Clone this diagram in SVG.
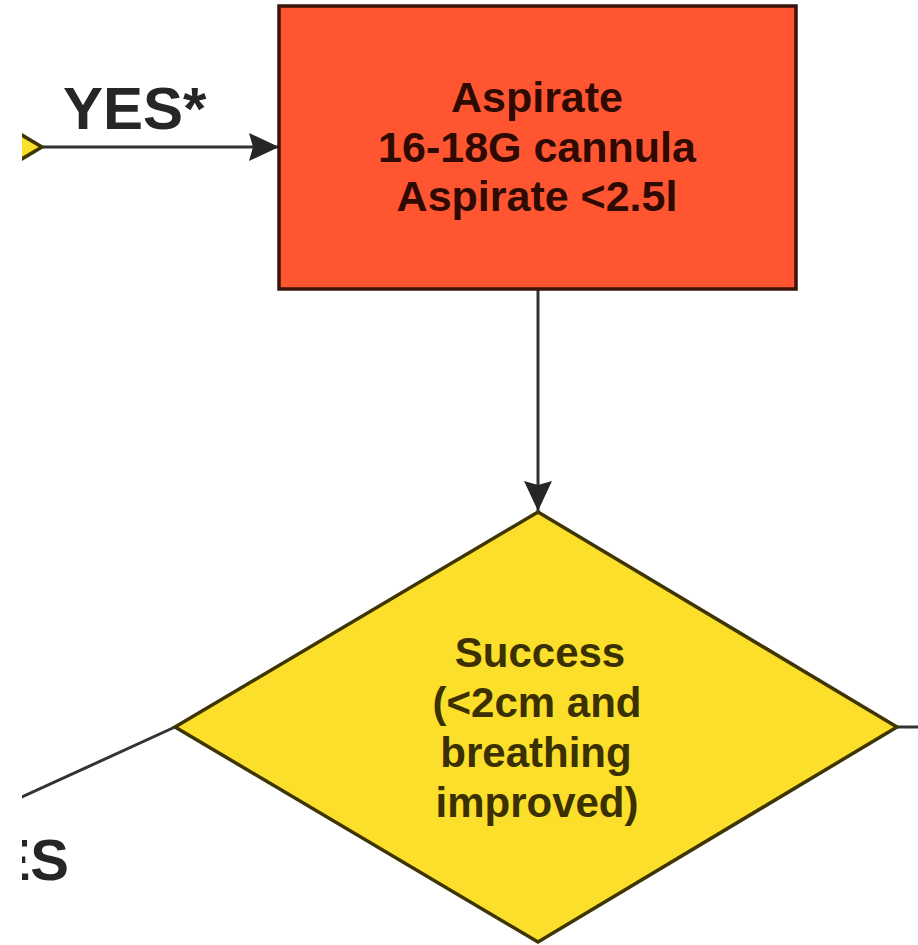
<svg xmlns="http://www.w3.org/2000/svg" width="918" height="945" viewBox="0 0 918 945">
  <style>
    .conn { fill: none; stroke: #333333; stroke-width: 3; }
    .proc { fill: #FF5631; stroke: #3a140a; stroke-width: 3.5; }
    .dec { fill: #FBDF2A; stroke: #3f3500; stroke-width: 3.5; }
    .lbl { font-family: "Liberation Sans", Arial, sans-serif; font-weight: bold; fill: #262626; }
    .ptxt { font-family: "Liberation Sans", Arial, sans-serif; font-weight: bold; font-size: 43px; fill: #2e0a02; text-anchor: middle; }
    .dtxt { font-family: "Liberation Sans", Arial, sans-serif; font-weight: bold; font-size: 42px; fill: #3a3000; text-anchor: middle; }
  </style>
  <defs>
    <marker id="arrow" markerUnits="userSpaceOnUse" markerWidth="30" markerHeight="30" refX="30" refY="15" orient="auto">
      <path d="M0,1 L30,15 L0,29 L4,15 Z" fill="#262626"/>
    </marker>
    <clipPath id="view">
      <rect x="22" y="0" width="896" height="945"/>
    </clipPath>
  </defs>
  <rect width="918" height="945" fill="#ffffff"/>
  <g clip-path="url(#view)">
    <g id="connectors">
      <path class="conn" d="M42,147 L279,147" marker-end="url(#arrow)"/>
      <path class="conn" d="M538,289 L538,511" marker-end="url(#arrow)"/>
      <path class="conn" d="M175,727 L0,807"/>
      <path class="conn" d="M897,727 L918,727"/>
    </g>
    <g id="labels">
      <text class="lbl" x="63" y="129" font-size="60">YES*</text>
      <text class="lbl" x="69" y="880" font-size="58" text-anchor="end">ES</text>
    </g>
    <g id="decision-prev">
      <polygon class="dec" points="42,147 -319,-68 -680,147 -319,362"/>
    </g>
    <g id="aspirate">
      <rect class="proc" x="279" y="6" width="517" height="283"/>
      <text class="ptxt" x="537" y="112">Aspirate</text>
      <text class="ptxt" x="537" y="162">16-18G cannula</text>
      <text class="ptxt" x="537" y="211">Aspirate &lt;2.5l</text>
    </g>
    <g id="success">
      <polygon class="dec" points="538,512 897,727 538,942 175,727"/>
      <text class="dtxt" x="540" y="667">Success</text>
      <text class="dtxt" x="537" y="717">(&lt;2cm and</text>
      <text class="dtxt" x="536" y="767">breathing</text>
      <text class="dtxt" x="537" y="817">improved)</text>
    </g>
  </g>
</svg>
